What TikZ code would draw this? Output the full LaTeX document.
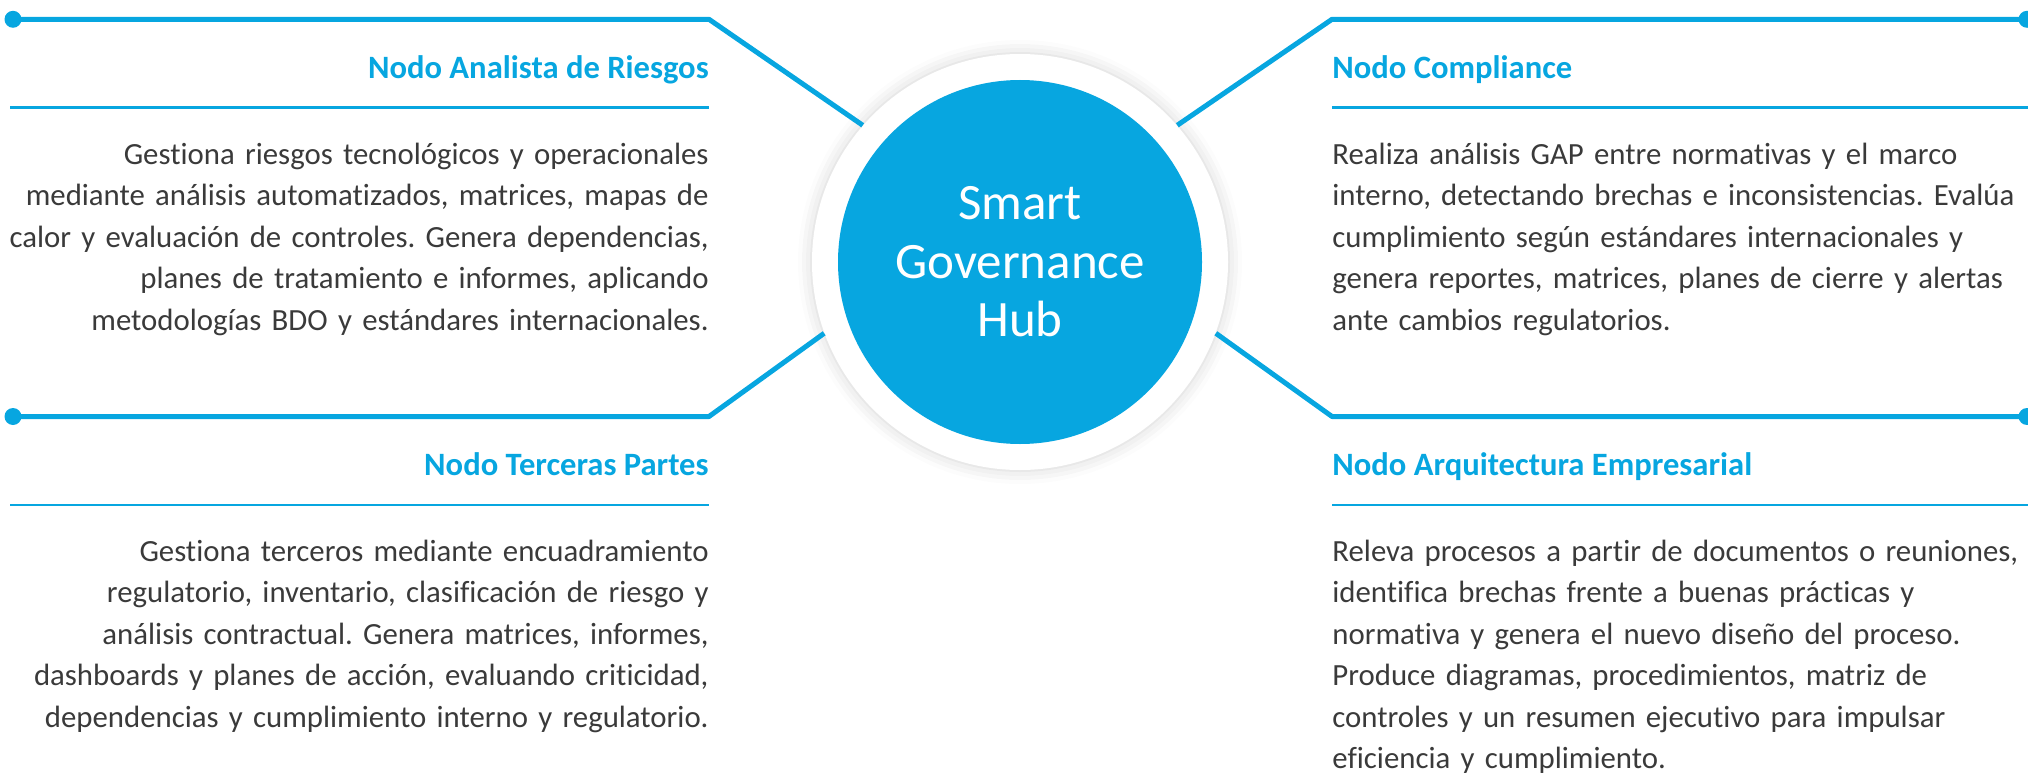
\documentclass[tikz,border=0pt]{standalone}
\usepackage{fontspec}
\setmainfont{Carlito}[Ligatures=NoCommon]
\usepackage{tikz}
\usetikzlibrary{positioning,shadows.blur}
\definecolor{hubblue}{HTML}{07A6E0}
\definecolor{bodygray}{HTML}{3A3A3A}
\frenchspacing

\begin{document}
\begin{tikzpicture}[%
  x=0.5pt,
  y=-0.5pt,
  wire/.style={
    draw=hubblue,
    line width=2.5pt,
    line join=round,},
  rule/.style={draw=hubblue, line width=1.4pt},
  dot/.style={circle, fill=hubblue, inner sep=0pt, minimum size=8.5pt},
  head/.style={inner sep=0pt, text=hubblue,
    font=\fontsize{16.3}{19}\selectfont\bfseries},
  body/.style={inner sep=0pt, text=bodygray, text width=360pt,
    font=\fontsize{15.4}{20.75}\selectfont}
  ]
  \useasboundingbox (0,0) rectangle (2028,781);
  %% Hub
  \node[circle, fill=white, inner sep=0pt, minimum size=208pt,
    blur shadow={shadow xshift=0pt, shadow yshift=0pt,
      shadow blur radius=7pt, shadow opacity=18}] (hub) at (1020,262) {};
  \node[circle, fill=hubblue, inner sep=0pt, minimum size=182pt,
    text=white, align=center, font=\fontsize{25.5}{29.3}\selectfont]
    (core) at (hub) {Smart\\Governance\\Hub};
  %% Nodes
  \node[head, anchor=base east] (nAR) at (709,79) {Nodo Analista de Riesgos};
  \node[head, anchor=base west] (nCO) at (1332,79) {Nodo Compliance};
  \node[head, anchor=base east] (nTP) at (709,475) {Nodo Terceras Partes};
  \node[head, anchor=base west] (nAE) at (1332,475) {Nodo Arquitectura Empresarial};
  \node[body, align=right, anchor=base east] (tAR) at (709,164) {%
    Gestiona riesgos tecnológicos y operacionales\\
    mediante análisis automatizados, matrices, mapas de\\
    calor y evaluación de controles. Genera dependencias,\\
    planes de tratamiento e informes, aplicando\\
    metodologías BDO y estándares internacionales.};
  \node[body, align=left, anchor=base west] (tCO) at (1332,164) {%
    Realiza análisis GAP entre normativas y el marco\\
    interno, detectando brechas e inconsistencias. Evalúa\\
    cumplimiento según estándares internacionales y\\
    genera reportes, matrices, planes de cierre y alertas\\
    ante cambios regulatorios.};
  \node[body, align=right, anchor=base east] (tTP) at (709,561) {%
    Gestiona terceros mediante encuadramiento\\
    regulatorio, inventario, clasificación de riesgo y\\
    análisis contractual. Genera matrices, informes,\\
    dashboards y planes de acción, evaluando criticidad,\\
    dependencias y cumplimiento interno y regulatorio.};
  \node[body, align=left, anchor=base west] (tAE) at (1332,561) {%
    Releva procesos a partir de documentos o reuniones,\\
    identifica brechas frente a buenas prácticas y\\
    normativa y genera el nuevo diseño del proceso.\\
    Produce diagramas, procedimientos, matriz de\\
    controles y un resumen ejecutivo para impulsar\\
    eficiencia y cumplimiento.};
  %% Dots and corners
  \node[dot] (pAR) at (13,19.3) {};
  \node[dot] (pCO) at (2027,19.3) {};
  \node[dot] (pTP) at (13,416.5) {};
  \node[dot] (pAE) at (2027,416.5) {};
  \coordinate (kAR) at (709,19.3);
  \coordinate (kCO) at (1332,19.3);
  \coordinate (kTP) at (709,416.5);
  \coordinate (kAE) at (1332,416.5);
  %% Edges
  \draw[wire] (pAR.center) -- (kAR) -- (hub.139);
  \draw[wire] (pCO.center) -- (kCO) -- (hub.41);
  \draw[wire] (pTP.center) -- (kTP) -- (hub.200);
  \draw[wire] (pAE.center) -- (kAE) -- (hub.340);
  %% Rules
  \draw[rule] (10,107.8) -- (709,107.8);
  \draw[rule] (1332,107.8) -- (2028,107.8);
  \draw[rule] (10,505) -- (709,505);
  \draw[rule] (1332,505) -- (2028,505);
\end{tikzpicture}
\end{document}
